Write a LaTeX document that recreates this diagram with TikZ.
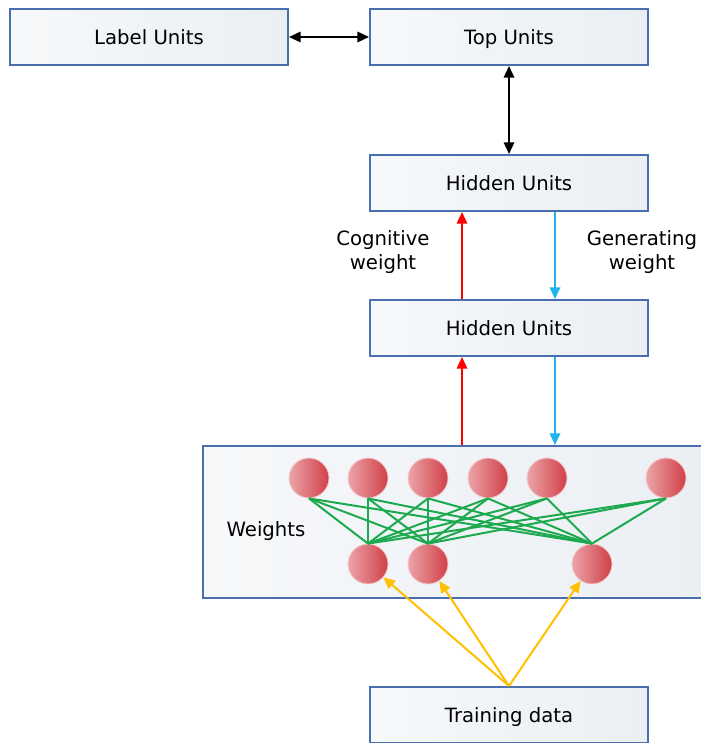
\documentclass[tikz,border=0pt]{standalone}
\usepackage{fontspec}
\setmainfont{DejaVu Sans}
\usepackage{tikz}
\usetikzlibrary{arrows.meta}
\definecolor{boxline}{HTML}{4A6FAE}
\definecolor{boxleft}{HTML}{F6F8FA}
\definecolor{boxright}{HTML}{EBEFF3}
\definecolor{ballleft}{HTML}{EBA4A8}
\definecolor{ballright}{HTML}{D13F48}
\definecolor{weightgreen}{HTML}{1DAA4E}
\definecolor{datayellow}{HTML}{FFC000}
\definecolor{genblue}{HTML}{1FB4EA}

\begin{document}
\begin{tikzpicture}[x=0.25mm, y=-0.25mm, >={Triangle[length=2.9mm,width=2.6mm]},
    unit/.style={draw=boxline, line width=0.5mm, left color=boxleft, right color=boxright,
        minimum width=69.5mm, minimum height=14mm, inner sep=0pt, text height=12pt, text depth=2pt,
        font=\fontsize{14}{17}\selectfont},
    neuron/.style={circle, draw=ballleft!60, line width=0.6pt, left color=ballleft,
        right color=ballright, minimum size=10mm, inner sep=0pt},
    note/.style={align=center, font=\fontsize{14}{17}\selectfont}]
    \useasboundingbox (0,0) rectangle (700,743);

    % layer boxes
    \node [unit] (label) at (149,37) {Label Units};
    \node [unit] (top) at (509,37) {Top Units};
    \node [unit] (hidtop) at (509,183) {Hidden Units};
    \node [unit] (hidlow) at (509,328) {Hidden Units};
    \node [unit] (train) at (509,715) {Training data};
    \node [unit, minimum width=126.75mm, minimum height=38mm] (panel) at (456.5,522) {};
    \node [note] (wlabel) at (266,531) {Weights};

    % visible and hidden neurons
    \foreach \x [count=\i] in {309,368,428,488,547,666}
        \node [neuron] (t\i) at (\x,478) {};
    \foreach \x [count=\i] in {368,428,592}
        \node [neuron] (b\i) at (\x,564) {};
    \foreach \i in {1,...,6}
        \foreach \j in {1,2,3}
            \draw [weightgreen, line width=0.5mm] (t\i.south) -- (b\j.north);

    % connections between layers
    \draw [<->, line width=0.5mm] (label) -- (top);
    \draw [<->, line width=0.5mm] (top) -- (hidtop);
    \draw [->, red, line width=0.5mm] ([xshift=-11.75mm]hidlow.north) -- ([xshift=-11.75mm]hidtop.south);
    \draw [->, genblue, line width=0.5mm] ([xshift=11.5mm]hidtop.south) -- ([xshift=11.5mm]hidlow.north);
    \draw [->, red, line width=0.5mm] ([xshift=-11.75mm]hidlow.south |- panel.north) -- ([xshift=-11.75mm]hidlow.south);
    \draw [->, genblue, line width=0.5mm] ([xshift=11.5mm]hidlow.south) -- ([xshift=11.5mm]hidlow.south |- panel.north);
    \foreach \j in {1,2,3}
        \draw [->, datayellow, line width=0.5mm] (train.north) -- (b\j);

    \node [note] (cogn) at (383,252) {Cognitive\\weight};
    \node [note] (gener) at (642,252) {Generating\\weight};
\end{tikzpicture}
\end{document}
